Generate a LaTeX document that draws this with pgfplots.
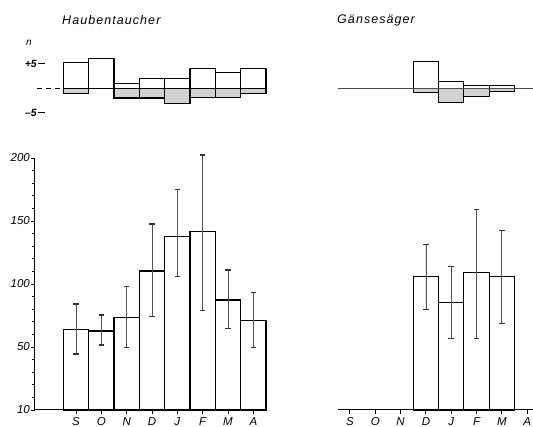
\documentclass[border=0pt]{standalone}
\usepackage{fontspec}
\setmainfont{Liberation Sans}
\usepackage{pgfplots}
\usepackage{pgfplotstable}
\pgfplotsset{compat=1.18}

% lower panels: mean value, error plus, error minus
\pgfplotstableread{
x val ep em
0 64.0 20.1 19.6
1 62.7 12.7 11.1
2 73.6 24.3 24.2
3 110.3 37.3 36.3
4 137.5 37.7 31.7
5 141.5 60.9 62.7
6 87.3 23.8 22.5
7 70.9 22.2 21.5
}\haubentab
\pgfplotstableread{
x val ep em
3 105.8 25.7 25.9
4 85.2 28.5 28.3
5 109.0 50.3 52.1
6 105.8 36.5 37.0
}\gaensetab
% upper panels: deviations n
\pgfplotstableread{
x pos
0 5.2
1 6.1
2 0.9
3 2.0
4 2.0
5 4.1
6 3.2
7 4.1
}\haubpos
\pgfplotstableread{
x neg
0 -1.0
2 -2.0
3 -2.0
4 -3.1
5 -1.8
6 -1.8
7 -1.0
}\haubneg
\pgfplotstableread{
x pos
3 5.4
4 1.4
5 0.6
6 0.5
}\gaenpos
\pgfplotstableread{
x neg
3 -0.9
4 -2.9
5 -1.7
6 -0.7
}\gaenneg

\pgfplotsset{
  lowbar/.style={ybar, bar width=1, bar shift=0pt, fill=white, draw=black, line width=1.2pt,
    error bars/.cd, y dir=both, y explicit,
    error bar style={line width=0.8pt, gray!65!black},
    error mark options={rotate=90, line width=1.1pt, black!80, mark size=2.8pt}},
  posbar/.style={ybar, bar width=1, bar shift=0pt, fill=white, draw=black, line width=1.2pt},
  negbar/.style={ybar, bar width=1, bar shift=0pt, fill=gray!35, draw=black, line width=1.2pt},
  lettering/.style={font=\itshape\fontsize{11.5}{13}\selectfont},
}

\begin{document}
\begin{tikzpicture}
\useasboundingbox (0pt,0pt) rectangle (533pt,427pt);

% titles
\node[anchor=base west, inner sep=0pt, font=\itshape\fontsize{12.5}{14}\selectfont\addfontfeatures{LetterSpace=8.5}] at (62pt,402pt) {Haubentaucher};
\node[anchor=base west, inner sep=0pt, font=\itshape\fontsize{12.5}{14}\selectfont\addfontfeatures{LetterSpace=8.5}] at (337pt,403pt) {Gänsesäger};
\node[font=\itshape\fontsize{10}{12}\selectfont] at (29pt,384pt) {n};

% ---- upper left
\begin{axis}[
  at={(45pt,304.4pt)}, anchor=south west, scale only axis,
  width=220.9pt, height=68.6pt,
  xmin=-1.22, xmax=7.5, ymin=-7, ymax=7, clip=false,
  separate axis lines, axis x line=none, axis y line*=left,
  y axis line style={draw=none},
  ytick={-5,5}, yticklabels={–5,+5},
  tick align=outside, major tick length=7pt, tick style={line width=1pt, black},
  yticklabel style={font=\itshape\bfseries\fontsize{10.5}{12}\selectfont, inner xsep=1pt},
]
\addplot[posbar] table[x=x, y=pos] {\haubpos};
\addplot[negbar] table[x=x, y=neg] {\haubneg};
\draw[line width=0.9pt, dash pattern=on 5pt off 4pt] (axis cs:-1.54,0) -- (axis cs:-0.5,0);
\draw[line width=0.9pt] (axis cs:-0.5,0) -- (axis cs:7.5,0);
\end{axis}

% ---- upper right
\begin{axis}[
  at={(338pt,304.4pt)}, anchor=south west, scale only axis,
  width=194.8pt, height=68.6pt,
  xmin=-0.47, xmax=7.22, ymin=-7, ymax=7, clip=false,
  hide axis,
]
\addplot[posbar] table[x=x, y=pos] {\gaenpos};
\addplot[negbar] table[x=x, y=neg] {\gaenneg};
\draw[line width=0.8pt, gray!60!black] (axis cs:-0.47,0) -- (axis cs:7.22,0);
\end{axis}

% ---- lower left
\begin{axis}[
  at={(35pt,17pt)}, anchor=south west, scale only axis,
  width=231pt, height=252pt,
  xmin=-1.62, xmax=7.5, ymin=0, ymax=200, clip=false,
  axis lines=left, axis line style={-, line width=1pt},
  xtick={0,...,7}, xticklabels={S,O,N,D,J,F,M,A},
  ytick={0,50,100,150,200}, yticklabels={10,50,100,150,200},
  minor ytick={10,20,30,40,60,70,80,90,110,120,130,140,160,170,180,190},
  tick align=outside, major tick length=4pt, minor tick length=2.5pt,
  tick style={line width=0.9pt, black},
  ticklabel style={lettering},
  yticklabel style={inner xsep=1pt},
]
\addplot[lowbar] table[x=x, y=val, y error plus=ep, y error minus=em] {\haubentab};
\end{axis}

% ---- lower right
\begin{axis}[
  at={(338pt,17pt)}, anchor=south west, scale only axis,
  width=194.8pt, height=252pt,
  xmin=-0.47, xmax=7.22, ymin=0, ymax=200, clip=false,
  axis x line*=bottom, axis y line=none, axis line style={-, line width=1pt},
  xtick={0,...,7}, xticklabels={S,O,N,D,J,F,M,A},
  tick align=outside, major tick length=4pt,
  tick style={line width=0.9pt, black},
  ticklabel style={lettering},
]
\addplot[lowbar] table[x=x, y=val, y error plus=ep, y error minus=em] {\gaensetab};
\end{axis}
\end{tikzpicture}
\end{document}
